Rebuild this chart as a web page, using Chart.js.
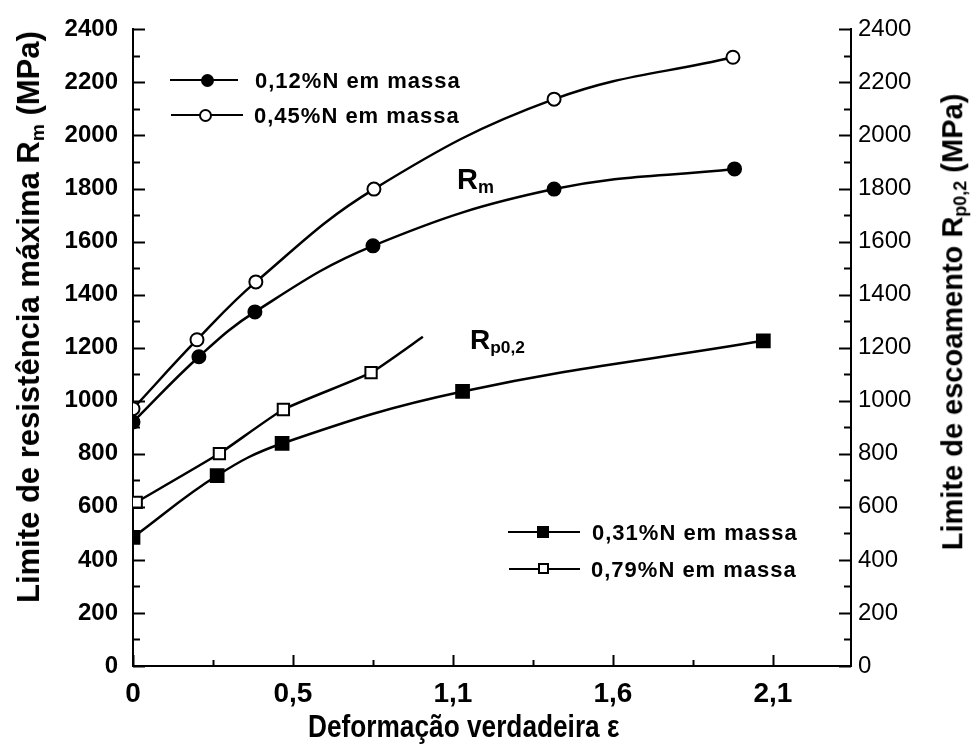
<!DOCTYPE html>
<html>
<head>
<meta charset="utf-8">
<script src="https://cdn.jsdelivr.net/npm/chart.js@4.4.0/dist/chart.umd.min.js"></script>
<style>
  html, body { margin: 0; padding: 0; background: #fff; }
  #wrap { position: relative; width: 973px; height: 747px; font-family: 'Liberation Sans', Arial, sans-serif; color: #000; }
  #chart { position: absolute; left: 0; top: 0; }
  .lbl { position: absolute; white-space: nowrap; font-weight: bold; line-height: 1; }
  .rot { position: absolute; white-space: nowrap; font-weight: bold; line-height: 1; transform: translate(-50%, -50%) rotate(-90deg); }
  .rot sub, .ann sub { font-size: 62%; vertical-align: -0.25em; }
  .leg { position: absolute; font-weight: bold; font-size: 22px; letter-spacing: 1px; white-space: nowrap; line-height: 1; }
  .legline { position: absolute; height: 0; border-top: 2.5px solid #000; }
  .mk { position: absolute; box-sizing: border-box; border: 2px solid #000; }
  .cond { transform: scaleX(0.82); transform-origin: 0 0; }
</style>
</head>
<body>
<div id="wrap">
  <canvas id="chart" width="973" height="747"></canvas>

  <!-- axis titles -->
  <div class="rot" style="left:30px; top:317px; font-size:31px;">Limite de resistência máxima R<sub>m</sub> (MPa)</div>
  <div class="rot" style="left:954px; top:322px; font-size:29px;">Limite de escoamento R<sub>p0,2</sub> (MPa)</div>
  <div class="lbl cond" style="left:308px; top:710px; font-size:32px;">Deformação verdadeira ε</div>

  <!-- curve labels -->
  <div class="lbl ann" style="left:457px; top:165px; font-size:29px;">R<sub>m</sub></div>
  <div class="lbl ann" style="left:470px; top:326px; font-size:28px;">R<sub>p0,2</sub></div>

  <!-- top legend -->
  <div class="legline" style="left:170px; top:79px; width:68px;"></div>
  <div class="mk" style="left:201px; top:74px; width:13px; height:13px; border-radius:50%; background:#000;"></div>
  <div class="leg" style="left:255px; top:70px;">0,12%N em massa</div>
  <div class="legline" style="left:171px; top:114px; width:72px;"></div>
  <div class="mk" style="left:199px; top:109px; width:13px; height:13px; border-radius:50%; background:#fff;"></div>
  <div class="leg" style="left:254px; top:105px;">0,45%N em massa</div>

  <!-- bottom legend -->
  <div class="legline" style="left:508px; top:531px; width:72px;"></div>
  <div class="mk" style="left:537px; top:526px; width:12px; height:12px; background:#000;"></div>
  <div class="leg" style="left:592px; top:522px;">0,31%N em massa</div>
  <div class="legline" style="left:509px; top:568px; width:71px;"></div>
  <div class="mk" style="left:538px; top:563px; width:11px; height:11px; background:#fff;"></div>
  <div class="leg" style="left:591px; top:559px;">0,79%N em massa</div>
</div>

<script>
// x positions are in axis units (major tick every 0.5), tick texts as printed
const xTickPos = [0, 0.5, 1.0, 1.5, 2.0];
const xTickLabels = ['0', '0,5', '1,1', '1,6', '2,1'];
const yMin = 0, yMax = 2400, yStep = 200;

// Rm, 0,12%N (filled circles)
const rmLowX = [0, 0.206, 0.381, 0.75, 1.316, 1.88];
const rmLowY = [920, 1166, 1335, 1584, 1798, 1874];
// Rm, 0,45%N (open circles)
const rmHighX = [0, 0.2, 0.384, 0.753, 1.316, 1.875];
const rmHighY = [970, 1230, 1448, 1798, 2137, 2295];
// Rp0,2, 0,31%N (filled squares)
const rpLowX = [0, 0.263, 0.466, 1.03, 1.97];
const rpLowY = [485, 718, 839, 1035, 1226];
// Rp0,2, 0,79%N (open squares); last entry is the end of the drawn line
const rpHighX = [0.01, 0.27, 0.47, 0.744, 0.906];
const rpHighY = [617, 801, 967, 1106, 1241];

const pts = (xs, ys) => xs.map((x, i) => ({ x, y: ys[i] }));

function series(xs, ys, style, fill, radius, lastBare, tension) {
  return {
    data: pts(xs, ys),
    borderColor: '#000',
    borderWidth: 2.5,
    tension: tension,
    pointStyle: style,
    pointRadius: xs.map((_, i) => (lastBare && i === xs.length - 1 ? 0 : radius)),
    pointBackgroundColor: fill,
    pointBorderColor: '#000',
    pointBorderWidth: 2,
    yAxisID: 'y',
  };
}

// inward tick marks on the three axes
const inwardTicks = {
  id: 'inwardTicks',
  afterDraw(chart) {
    const { ctx, chartArea: a, scales } = chart;
    ctx.save();
    ctx.strokeStyle = '#000';
    ctx.lineWidth = 2;
    const seg = (x1, y1, x2, y2) => {
      ctx.beginPath(); ctx.moveTo(x1, y1); ctx.lineTo(x2, y2); ctx.stroke();
    };
    for (let v = yMin; v <= yMax; v += yStep / 2) {
      const y = Math.round(scales.y.getPixelForValue(v)) + 0.5;
      const len = v % yStep === 0 ? 12 : 7;
      seg(a.left, y, a.left + len, y);
      seg(a.right, y, a.right - len, y);
    }
    for (let i = 0; i * 0.25 <= scales.x.max + 1e-9; i++) {
      const x = Math.round(scales.x.getPixelForValue(i * 0.25)) + 0.5;
      seg(x, a.bottom, x, a.bottom - (i % 2 === 0 ? 11 : 6));
    }
    ctx.restore();
  },
};

const yTicksFont = (bold) => ({ family: "'Liberation Sans', Arial, sans-serif", size: 24, weight: bold ? 'bold' : 'normal' });
const plain = (v) => String(v);

new Chart(document.getElementById('chart'), {
  type: 'line',
  data: {
    datasets: [
      series(rmLowX, rmLowY, 'circle', '#000', 6.5, false, 0.4),
      series(rmHighX, rmHighY, 'circle', '#fff', 6.5, false, 0.4),
      series(rpLowX, rpLowY, 'rect', '#000', 9, false, 0.4),
      series(rpHighX, rpHighY, 'rect', '#fff', 8, true, 0.15),
    ],
  },
  options: {
    responsive: false,
    animation: false,
    layout: { padding: { top: 28, left: 0, right: 0, bottom: 0 } },
    plugins: { legend: { display: false }, tooltip: { enabled: false } },
    scales: {
      x: {
        type: 'linear',
        min: 0,
        max: 2.244,
        afterFit: (s) => { s.height = 81; },
        afterBuildTicks: (s) => { s.ticks = xTickPos.map((v) => ({ value: v })); },
        grid: { display: false, drawTicks: false },
        border: { display: true, color: '#000', width: 2 },
        ticks: {
          color: '#000',
          padding: 11,
          autoSkip: false,
          maxRotation: 0,
          font: { family: "'Liberation Sans', Arial, sans-serif", size: 28, weight: 'bold' },
          callback: (v) => {
            const i = xTickPos.findIndex((p) => Math.abs(p - v) < 1e-6);
            return i >= 0 ? xTickLabels[i] : '';
          },
        },
      },
      y: {
        position: 'left',
        min: yMin,
        max: yMax,
        afterFit: (s) => { s.width = 133; },
        grid: { display: false, drawTicks: false },
        border: { display: true, color: '#000', width: 2 },
        ticks: { stepSize: yStep, color: '#000', padding: 15, font: yTicksFont(true), callback: plain },
      },
      y2: {
        position: 'right',
        min: yMin,
        max: yMax,
        afterFit: (s) => { s.width = 122; },
        grid: { display: false, drawTicks: false },
        border: { display: true, color: '#000', width: 2 },
        ticks: { stepSize: yStep, color: '#000', padding: 7, font: yTicksFont(false), callback: plain },
      },
    },
  },
  plugins: [inwardTicks],
});
</script>
</body>
</html>
